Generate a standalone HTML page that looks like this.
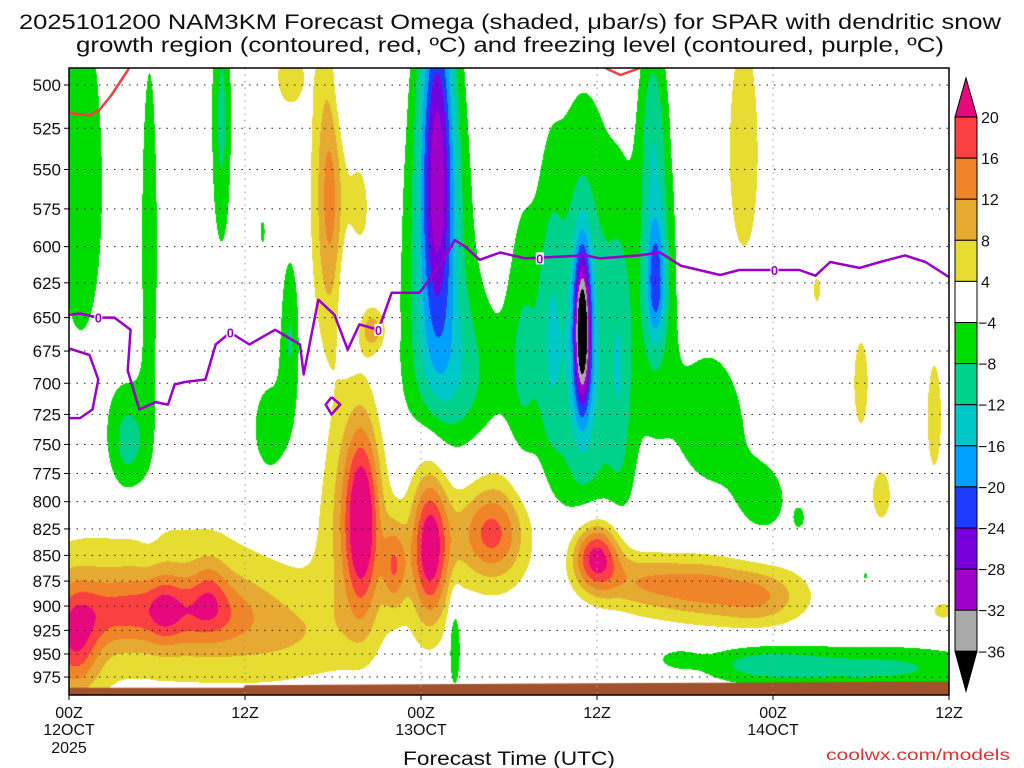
<!DOCTYPE html>
<html><head><meta charset="utf-8">
<style>
html,body{margin:0;padding:0;background:#fff;width:1024px;height:768px;overflow:hidden}
#wrap{position:relative;width:1024px;height:768px}
canvas{position:absolute;left:69px;top:68px}
svg{position:absolute;left:0;top:0}
text{font-family:"Liberation Sans","DejaVu Sans",sans-serif;fill:#111}
</style></head><body>
<div id="wrap">
<canvas id="cv" width="880" height="627"></canvas>
<svg id="sv" width="1024" height="768"></svg>
</div>
<script>
// ---- data ----
// Omega features (hours from 00Z 12 Oct, pressure mb, amplitude ubar/s, time sigma h, pressure sigma mb)
const blobT   = [0.4,6.5,9.6,3.5,9,6,15,20,19.5,22.2,24.6,24.6,28.8,29,35.9,39,43,47,44,17.8,17.8,15,20.7,19.8,46,41.8,51,54,59,55.4,59.6,
                 25.1,25.1,26.5,35.0,35,36,40,40,31,44,47.5,0.8,5.5,10.4,18.7,15.1,13.2,13.7,4,19.2,26.3,55,47,41.5,54.3,49.8,32.8,37.6,39.8];
const blobP   = [937,904,884,905,905,900,930,820,810,860,845,830,830,820,850,875,880,890,890,560,570,495,659,575,540,535,630,700,727,794,905,
                 540,600,700,660,680,680,625,600,680,730,800,560,600,520,500,660,590,740,750,630,940,965,960,955,870,815,660,690,520];
const blobAmp = [15,5,5,10,10,7,5,17,10,13,15,8,11,7,24,9,9,9,4,8,6,6,10,6,7,5,5,6,6,5.5,5,
                 -22,-11,-8,-32,-9,-4.5,-14,-8,-6,-5.5,-5,-6,-5.5,-9,-6,-8,-5,-6,-10,-6,-9,-9,-7,-5,-5,-5,-6,-6,-6];
const blobWT  = [1.2,0.8,0.8,2.5,2.5,8,4,0.8,1.5,0.6,0.9,1.0,1.5,2.5,1.2,2,2,2,6,0.6,1.2,0.8,0.7,0.5,0.9,0.3,0.3,0.5,0.5,0.7,0.8,
                 0.8,1.6,2.5,0.4,1.5,3.5,0.45,0.9,0.8,2.2,1.5,1.6,0.6,0.5,0.7,0.5,0.2,1.2,1,0.6,0.3,6,3,1,0.4,0.3,0.6,0.6,0.6];
const blobWP  = [40,25,25,25,25,70,35,60,70,30,45,70,28,50,25,20,20,20,30,60,80,15,12,20,60,8,12,35,45,25,10,
                 80,90,50,40,110,120,30,70,80,55,30,110,130,60,30,45,10,40,35,30,35,18,15,8,8,8,80,80,40];
// Color levels
const levels  = [-36,-32,-28,-24,-20,-16,-12,-8,-4,4,8,12,16,20];
const colors  = ['#000000','#aaaaaa','#a000c8','#7800dc','#1e3cff','#00a0ff','#00c8c8','#00d28c','#00dc00','#ffffff','#e6dc32','#e6aa32','#f08428','#fa4040','#e8087e'];
// Freezing level (0 C) line
const fzT = [0,0.75,2,3.1,4.2,4.0,4.8,5.9,6.75,7.2,7.9,9.3,10,11,12.3,14.05,15.75,16,17,18.1,19,19.8,21.1,22,23.9,25.3,26.3,27,28,29.4,31.1,35.2,36.2,38.9,40.3,41.7,44.4,45.7,49.8,50.9,51.9,53.9,55.3,57,58.4,60];
const fzP = [648,647,650,650,659,690,721,715,717,701,699,697,670,661,670,659,670,693,637,648,674,655,659,632,632,612.6,595.5,600,609,604,608,606,608,606,604,613,619.5,616,616,620,610.5,614.6,610.5,606,610.5,621];
const fzLoopT = [0,1.4,2,1.6,0.75,0];
const fzLoopP = [673,678,697,721,728,728];
const fzDiaT = [17.9,18.5,17.9,17.5,17.9];
const fzDiaP = [711,717,725,717,711];
const fzLabT = [2,11,21.1,32.1,48.1];
const fzLabP = [650,661,659,608,616];
// Dendritic growth region (red)
const dgzT1 = [0,1.4,2.1,2.9,3.8,4.1];
const dgzP1 = [516,517.5,514,505.7,494.4,490.6];
const dgzT2 = [36.6,37.6,38.9];
const dgzP2 = [490.6,494.4,490.6];
// Surface pressure
const sfcT = [0,11.9,12,24,36,48,60];
const sfcP = [987,987,984,983,982,981,980];
// Axes
const yTicks = [500,525,550,575,600,625,650,675,700,725,750,775,800,825,850,875,900,925,950,975];
const xTicks = [0,12,24,36,48,60];
const xTick1 = ['00Z','12Z','00Z','12Z','00Z','12Z'];
const xTick2 = ['12OCT','','13OCT','','14OCT',''];
const cbLabels = ['20','16','12','8','4','\u22124','\u22128','\u221212','\u221216','\u221220','\u221224','\u221228','\u221232','\u221236'];

// ---- scales ----
const X0=69,X1=949,Y0=68,Y1=695;
function xs(t){return X0+t*(X1-X0)/60;}
function ys(p){return 85+886.5*Math.log(p/500);}
function pOfY(y){return 500*Math.exp((y-85)/886.5);}
function tOfX(x){return (x-X0)*60/(X1-X0);}

// ---- shading ----
const cv=document.getElementById('cv'),ctx=cv.getContext('2d');
const W=cv.width,H=cv.height,img=ctx.createImageData(W,H);
const rgb=colors.map(c=>[parseInt(c.substr(1,2),16),parseInt(c.substr(3,2),16),parseInt(c.substr(5,2),16)]);
for(let j=0;j<H;j++){
  const p=pOfY(Y0+j+0.5);
  const py=[];
  for(let k=0;k<blobT.length;k++){const d=(p-blobP[k])/blobWP[k];py.push(blobAmp[k]*Math.exp(-0.5*d*d));}
  for(let i=0;i<W;i++){
    const t=tOfX(X0+i+0.5);let v=0;
    for(let k=0;k<blobT.length;k++){if(Math.abs(py[k])<0.05)continue;const d=(t-blobT[k])/blobWT[k];if(d>5||d<-5)continue;v+=py[k]*Math.exp(-0.5*d*d);}
    let ci=0;while(ci<levels.length&&v>=levels[ci])ci++;
    const c=rgb[ci],o=(j*W+i)*4;img.data[o]=c[0];img.data[o+1]=c[1];img.data[o+2]=c[2];img.data[o+3]=255;
  }
}
ctx.putImageData(img,0,0);
// ground
ctx.fillStyle='#a0522d';ctx.beginPath();ctx.moveTo(0,H);
for(let k=0;k<sfcT.length;k++)ctx.lineTo(xs(sfcT[k])-X0,ys(sfcP[k])-Y0);
ctx.lineTo(W,H);ctx.closePath();ctx.fill();

// ---- svg overlay ----
const NS='http://www.w3.org/2000/svg',sv=document.getElementById('sv');
function mk(tag,attrs,parent){const e=document.createElementNS(NS,tag);for(const a in attrs)e.setAttribute(a,attrs[a]);(parent||sv).appendChild(e);return e;}
// grid
for(const p of yTicks){const g=mk('line',{x1:X0,x2:X1,y1:ys(p),y2:ys(p),stroke:'#222','stroke-width':1,'stroke-dasharray':'1.5,6'});

}
for(let k=1;k<xTicks.length-1;k++){const g=mk('line',{x1:xs(xTicks[k]),x2:xs(xTicks[k]),y1:Y0,y2:Y1,stroke:'#999','stroke-width':1,'stroke-dasharray':'1.5,5'});

}
function poly(T,P,color,w,name){let d='';for(let k=0;k<T.length;k++)d+=(k?'L':'M')+xs(T[k]).toFixed(1)+','+ys(P[k]).toFixed(1);
const e=mk('path',{d:d,fill:'none',stroke:color,'stroke-width':w,'stroke-linejoin':'round'});

return e;}
poly(dgzT1,dgzP1,'#f04040',2.5,'dgz-contour');
poly(dgzT2,dgzP2,'#f04040',2.5,'dgz-contour');
poly(fzT,fzP,'#9a00c8',2.5,'freezing-level-line');
poly(fzLoopT,fzLoopP,'#9a00c8',2.5,'freezing-level-loop');
poly(fzDiaT,fzDiaP,'#9a00c8',2.5,'freezing-level-diamond');
for(let k=0;k<fzLabT.length;k++){
  const bg=mk('rect',{x:xs(fzLabT[k])-4,y:ys(fzLabP[k])-6,width:8,height:12,fill:'#fff'});
  
  
  const t=mk('text',{x:xs(fzLabT[k]),y:ys(fzLabP[k])+5,'text-anchor':'middle','font-size':13,'font-weight':'bold',style:'fill:#9a00c8'});t.textContent='0';
  
  
}
// frame
const fr=mk('rect',{x:X0,y:Y0,width:X1-X0,height:Y1-Y0,fill:'none',stroke:'#000','stroke-width':1.5});


// y ticks
for(const p of yTicks){const y=ys(p);
mk('line',{x1:X0-5,x2:X0,y1:y,y2:y,stroke:'#000'});
const t=mk('text',{x:61,y:y+6,'text-anchor':'end','font-size':17});t.textContent=p;

}
// x ticks
for(let k=0;k<xTicks.length;k++){const x=xs(xTicks[k]);
mk('line',{x1:x,x2:x,y1:Y1,y2:Y1+5,stroke:'#000'});
const a=mk('text',{x:x,y:718,'text-anchor':'middle','font-size':16});a.textContent=xTick1[k];


if(xTick2[k]){const b=mk('text',{x:x,y:735,'text-anchor':'middle','font-size':16});b.textContent=xTick2[k];

}}
const yr=mk('text',{x:69,y:753,'text-anchor':'middle','font-size':16});yr.textContent='2025';


// colorbar
const cbX=955,cbW=22,cbTop=117,cbStep=41.1;
const tri1=mk('path',{d:`M${cbX},${cbTop}L${cbX+cbW/2},78L${cbX+cbW},${cbTop}Z`,fill:colors[14],stroke:'#000'});


for(let k=0;k<13;k++){const r=mk('rect',{x:cbX,y:cbTop+k*cbStep,width:cbW,height:cbStep,fill:colors[13-k],stroke:'#000'});

}
const bot=cbTop+13*cbStep;
const tri2=mk('path',{d:`M${cbX},${bot}L${cbX+cbW/2},${bot+40}L${cbX+cbW},${bot}Z`,fill:'#000',stroke:'#000'});


for(let k=0;k<cbLabels.length;k++){const t=mk('text',{x:cbLabels[k][0]==='\u2212'?978:981,y:cbTop+k*cbStep+6,'font-size':16});t.textContent=cbLabels[k];

}
// titles
const t1=mk('text',{x:510,y:29,'text-anchor':'middle','font-size':21,textLength:982,lengthAdjust:'spacingAndGlyphs'});
t1.textContent='2025101200 NAM3KM Forecast Omega (shaded, \u03bcbar/s) for SPAR with dendritic snow';


const t2=mk('text',{x:510,y:52,'text-anchor':'middle','font-size':21,textLength:868,lengthAdjust:'spacingAndGlyphs'});
t2.textContent='growth region (contoured, red, \u00baC) and freezing level (contoured, purple, \u00baC)';


const xt=mk('text',{x:509,y:765,'text-anchor':'middle','font-size':19,textLength:212,lengthAdjust:'spacingAndGlyphs'});
xt.textContent='Forecast Time (UTC)';


const cr=mk('text',{x:1010,y:760,'text-anchor':'end','font-size':16,textLength:184,lengthAdjust:'spacingAndGlyphs',style:'fill:#e03030'});
cr.textContent='coolwx.com/models';


</script>
</body></html>
